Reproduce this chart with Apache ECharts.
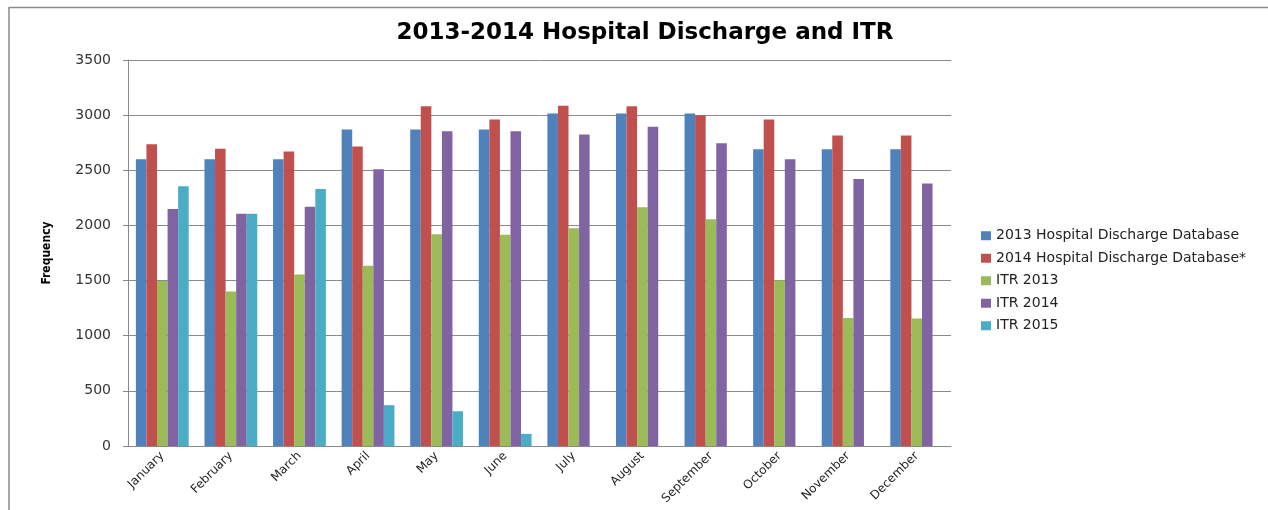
<!DOCTYPE html>
<html>
<head>
<meta charset="utf-8">
<script src="https://cdn.jsdelivr.net/npm/echarts@6/dist/echarts.min.js"></script>
<style>html,body{margin:0;padding:0;background:#fff;}#c{width:1268px;height:510px;}</style>
</head>
<body>
<div id="c"></div>
<script>
const months = ['January','February','March','April','May','June','July','August','September','October','November','December'];
const hd2013 = [2600, 2600, 2600, 2870, 2870, 2870, 3015, 3015, 3015, 2690, 2690, 2690];
const hd2014 = [2735, 2695, 2670, 2715, 3080, 2960, 3085, 3080, 3000, 2960, 2815, 2815];
const itr2013 = [1495, 1400, 1555, 1635, 1920, 1915, 1975, 2165, 2055, 1500, 1160, 1155];
const itr2014 = [2150, 2105, 2170, 2510, 2855, 2855, 2825, 2895, 2745, 2600, 2420, 2380];
const itr2015 = [2355, 2105, 2330, 370, 315, 110, null, null, null, null, null, null];
const seriesNames = ['2013 Hospital Discharge Database', '2014 Hospital Discharge Database*', 'ITR 2013', 'ITR 2014', 'ITR 2015'];
const colors = ['#4F81BD', '#C0504D', '#9BBB59', '#8064A2', '#4BACC6'];
const allData = [hd2013, hd2014, itr2013, itr2014, itr2015];

const chart = echarts.init(document.getElementById('c'), null, {renderer: 'canvas'});
chart.setOption({
  animation: false,
  backgroundColor: '#fff',
  title: {
    text: '2013-2014 Hospital Discharge and ITR',
    left: 640, top: 17, textAlign: 'center',
    textStyle: {fontFamily: 'DejaVu Sans', fontWeight: 'bold', fontSize: 23, color: '#000'}
  },
  graphic: [
    {type: 'line', shape: {x1: 9, y1: 7.5, x2: 1268, y2: 7.5}, style: {stroke: '#8a8a8a', lineWidth: 1.5}},
    {type: 'line', shape: {x1: 9, y1: 7, x2: 9, y2: 510}, style: {stroke: '#8a8a8a', lineWidth: 1.5}}
  ],
  legend: {
    orient: 'vertical', left: 976, top: 223,
    itemWidth: 10, itemHeight: 9, itemGap: 7,
    icon: 'rect',
    textStyle: {fontFamily: 'DejaVu Sans', fontSize: 14, color: '#222', lineHeight: 15.5},
    data: seriesNames
  },
  grid: {left: 128, right: 317, top: 60, bottom: 64},
  xAxis: {
    type: 'category', data: months,
    axisLine: {lineStyle: {color: '#8a8a8a'}},
    axisTick: {length: 5, lineStyle: {color: '#8a8a8a'}},
    axisLabel: {rotate: 45, fontFamily: 'DejaVu Sans', fontSize: 12, color: '#222', margin: 8, interval: 0}
  },
  yAxis: {
    type: 'value', min: 0, max: 3500, interval: 500,
    name: 'Frequency', nameLocation: 'middle', nameGap: 75, nameRotate: 90,
    nameTextStyle: {fontFamily: 'DejaVu Sans Condensed', fontWeight: 'bold', fontSize: 12, color: '#000'},
    axisLine: {show: true, lineStyle: {color: '#8a8a8a'}},
    axisTick: {show: true, length: 5, lineStyle: {color: '#8a8a8a'}},
    splitLine: {lineStyle: {color: '#8a8a8a'}},
    axisLabel: {fontFamily: 'DejaVu Sans', fontSize: 14, color: '#333', margin: 17, formatter: v => String(v)}
  },
  series: seriesNames.map((n, i) => ({
    name: n, type: 'bar', data: allData[i],
    itemStyle: {color: colors[i]},
    barGap: '0%', barCategoryGap: '23%'
  }))
});
</script>
</body>
</html>
